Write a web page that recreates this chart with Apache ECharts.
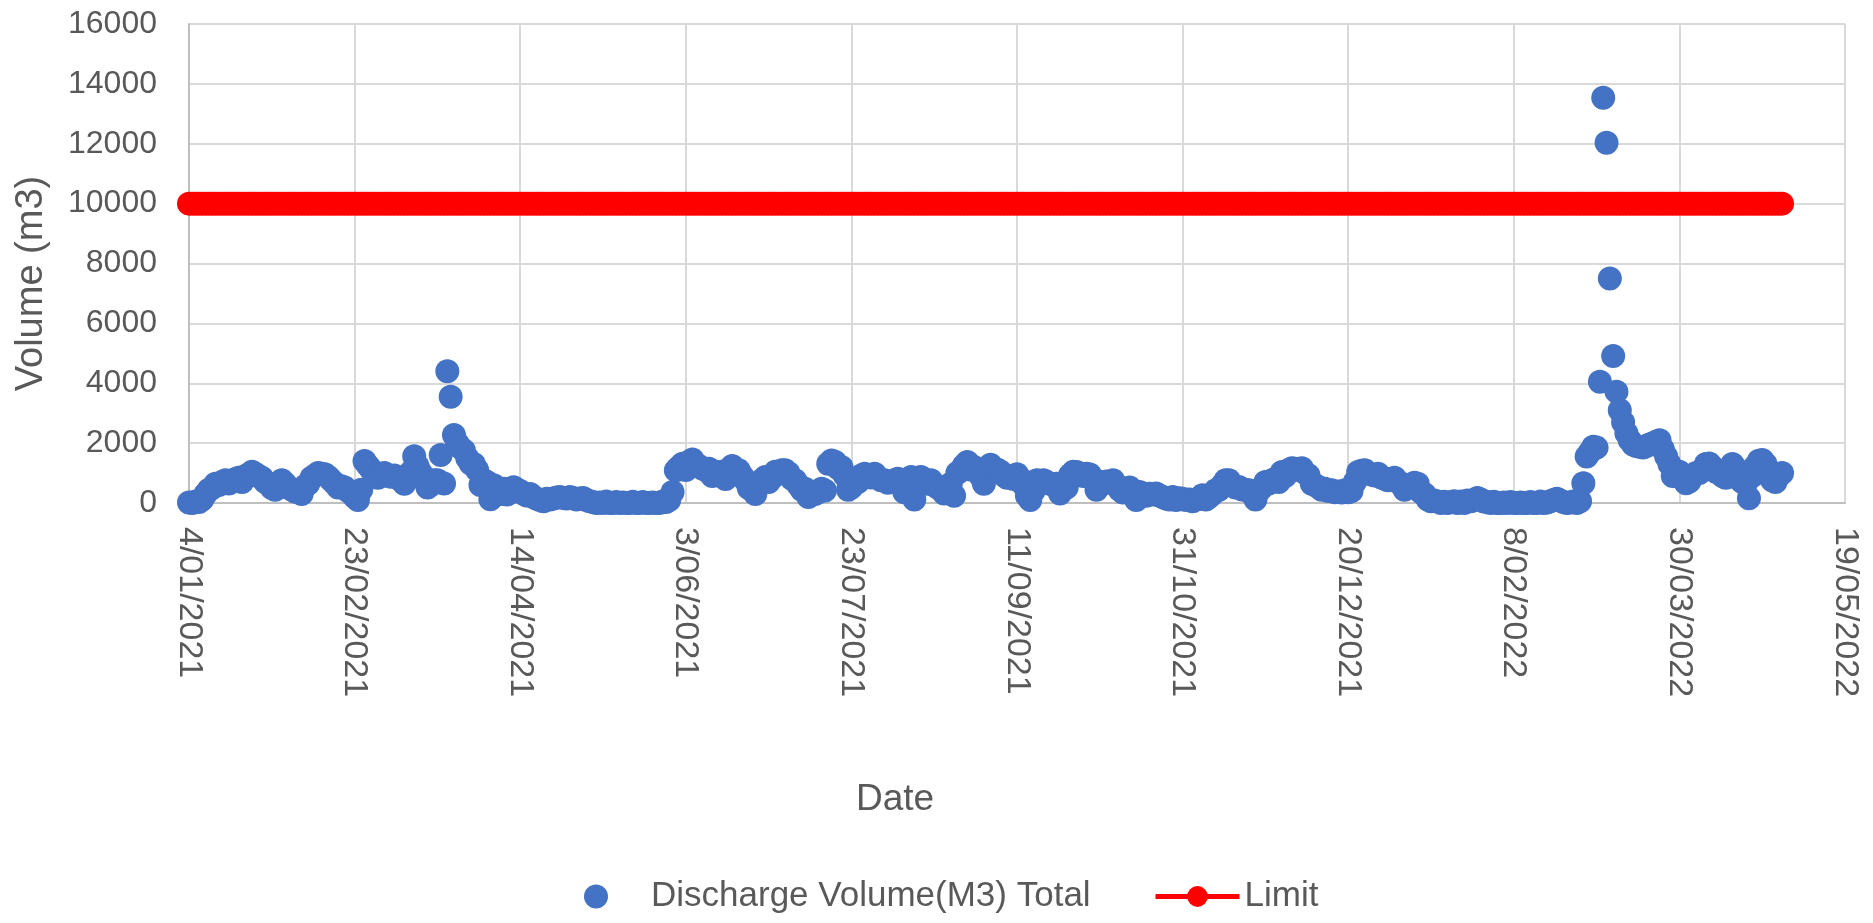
<!DOCTYPE html>
<html>
<head>
<meta charset="utf-8">
<script src="https://cdn.jsdelivr.net/npm/echarts@6/dist/echarts.min.js"></script>
<style>
html,body{margin:0;padding:0;background:#fff;}
#chart{width:1873px;height:923px;}
</style>
</head>
<body>
<div id="chart"></div>
<script>
// Day 0 = 4/01/2021; one value per day
const startDate = [2021, 0, 4];
const seriesNames = ['Discharge Volume(M3) Total', 'Limit'];
const limitValue = 10000;
const volume = [
  20, 0, 50, 30, 120, 300, 440, 500, 640, 600,
  700, 760, 650, 720, 800, 840, 700, 900, 950, 1040,
  980, 900, 840, 700, 640, 500, 440, 600, 760, 650,
  520, 450, 380, 360, 300, 560, 640, 840, 920, 1000,
  980, 960, 880, 760, 650, 520, 560, 520, 400, 360,
  200, 100, 440, 1400, 1250, 1120, 950, 840, 900, 1000,
  920, 880, 920, 840, 760, 640, 800, 1040, 1560, 1240,
  1000, 840, 520, 600, 760, 760, 1600, 650, 4400, 3550,
  2270, 2000, 1850, 1750, 1500, 1320, 1300, 1100, 600, 760,
  700, 125, 590, 360, 300, 480, 280, 350, 530, 450,
  400, 310, 250, 300, 200, 145, 100, 60, 145, 120,
  150, 180, 200, 170, 150, 200, 170, 120, 150, 170,
  100, 60, 30, 0, 20, 0, 50, 0, 0, 30,
  0, 20, 0, 0, 40, 0, 0, 30, 0, 0,
  20, 0, 0, 50, 30, 100, 370, 1090, 1200, 1310,
  1100, 1380, 1450, 1300, 1240, 1150, 1100, 1145, 900, 1040,
  980, 1040, 800, 1090, 1240, 1100, 1090, 900, 760, 500,
  440, 300, 600, 760, 870, 700, 840, 1040, 980, 1090,
  1090, 1000, 813, 760, 600, 440, 479, 200, 367, 300,
  360, 479, 420, 1310, 1420, 1380, 1160, 1200, 920, 440,
  520, 813, 700, 920, 980, 900, 850, 980, 840, 760,
  757, 680, 700, 760, 813, 760, 360, 700, 870, 120,
  840, 870, 750, 640, 757, 600, 520, 535, 320, 500,
  645, 240, 1000, 1090, 1250, 1369, 1120, 1200, 1090, 900,
  640, 1000, 1280, 1147, 1120, 1050, 924, 840, 900, 800,
  960, 813, 600, 240, 100, 400, 757, 700, 760, 701,
  640, 600, 645, 320, 500, 520, 924, 1040, 1035, 960,
  900, 980, 950, 813, 440, 700, 640, 720, 700, 757,
  600, 440, 350, 479, 520, 420, 100, 367, 320, 240,
  311, 280, 320, 250, 200, 150, 120, 200, 100, 160,
  145, 100, 120, 60, 120, 150, 256, 120, 200, 300,
  423, 440, 600, 757, 760, 600, 520, 535, 450, 440,
  423, 300, 120, 400, 520, 701, 650, 760, 813, 700,
  1035, 900, 1100, 1160, 1147, 1100, 1160, 1000, 924, 640,
  600, 535, 440, 480, 400, 423, 360, 380, 350, 423,
  360, 400, 700, 1035, 1080, 1090, 1000, 950, 920, 980,
  850, 813, 760, 800, 840, 701, 650, 440, 600, 550,
  680, 645, 360, 300, 120, 60, 80, 50, 0, 40,
  0, 30, 60, 0, 50, 0, 80, 60, 100, 170,
  120, 50, 30, 0, 40, 0, 0, 20, 0, 30,
  0, 0, 20, 0, 0, 30, 0, 0, 50, 0,
  20, 60, 100, 145, 80, 30, 0, 20, 50, 0,
  60, 660, 1550, 1700, 1880, 1850, 4050, 13540, 12030, 7500,
  4910, 3720, 3100, 2700, 2330, 2100, 1950, 1900, 1880, 1850,
  1900, 1950, 2000, 2050, 2100, 1800, 1550, 1300, 900, 1000,
  1040, 800, 658, 720, 900, 1000, 1000, 1100, 1300, 1320,
  1200, 1040, 1000, 900, 840, 1000, 1300, 1160, 800, 700,
  640, 160, 900, 1240, 1410, 1440, 1300, 1000, 760, 700,
  900, 1000
];

function dayLabel(d) {
  const t = new Date(Date.UTC(startDate[0], startDate[1], startDate[2] + d));
  return t.getUTCDate() + '/' + String(t.getUTCMonth() + 1).padStart(2, '0') + '/' + t.getUTCFullYear();
}

const volumeData = volume.map((v, i) => [i, v]);
const limitData = volume.map((v, i) => [i, limitValue]);

const FONT = '"Liberation Sans", Arial, sans-serif';
const legendText = {fontSize: 35, color: '#595959', fontFamily: FONT};
const chart = echarts.init(document.getElementById('chart'), null, {renderer: 'canvas'});
chart.setOption({
  animation: false,
  backgroundColor: '#ffffff',
  textStyle: {fontFamily: FONT},
  grid: {left: 189, right: 28, top: 24, bottom: 420, containLabel: false, outerBoundsMode: 'none'},
  xAxis: {
    type: 'value',
    min: 0, max: 500, interval: 50,
    name: 'Date',
    nameLocation: 'middle',
    nameGap: 278,
    nameTextStyle: {fontSize: 37, color: '#595959', fontFamily: FONT, padding: [0, 244, 0, 0]},
    axisLine: {show: true, lineStyle: {color: '#bfbfbf', width: 2}},
    axisTick: {show: false},
    splitLine: {show: true, lineStyle: {color: '#d9d9d9', width: 2}},
    axisLabel: {rotate: -90, margin: 24, fontSize: 34, color: '#595959', fontFamily: FONT, formatter: dayLabel}
  },
  yAxis: {
    type: 'value',
    min: 0, max: 16000, interval: 2000,
    name: 'Volume (m3)',
    nameLocation: 'middle',
    nameGap: 138,
    nameTextStyle: {fontSize: 38, color: '#595959', fontFamily: FONT, padding: [0, 40, 0, 0]},
    axisLine: {show: true, lineStyle: {color: '#bfbfbf', width: 2}},
    axisTick: {show: false},
    splitLine: {show: true, lineStyle: {color: '#d9d9d9', width: 2}},
    axisLabel: {margin: 32, fontSize: 32, color: '#595959', fontFamily: FONT, formatter: (v) => String(v)}
  },
  legend: [
    {
      left: 579,
      bottom: 4,
      itemWidth: 100,
      itemHeight: 24,
      textStyle: legendText,
      data: [seriesNames[0]]
    },
    {
      left: 1148,
      bottom: 4,
      itemWidth: 84,
      itemHeight: 26,
      textStyle: legendText,
      lineStyle: {width: 5},
      data: [seriesNames[1]]
    }
  ],
  series: [
    {
      name: seriesNames[0],
      type: 'scatter',
      data: volumeData,
      symbol: 'circle',
      symbolSize: 24,
      itemStyle: {color: '#4472c4', opacity: 1},
      z: 2
    },
    {
      name: seriesNames[1],
      type: 'line',
      data: limitData,
      symbol: 'circle',
      symbolSize: 24,
      showAllSymbol: true,
      itemStyle: {color: '#ff0000'},
      lineStyle: {color: '#ff0000', width: 5},
      z: 3
    }
  ]
});
</script>
</body>
</html>
